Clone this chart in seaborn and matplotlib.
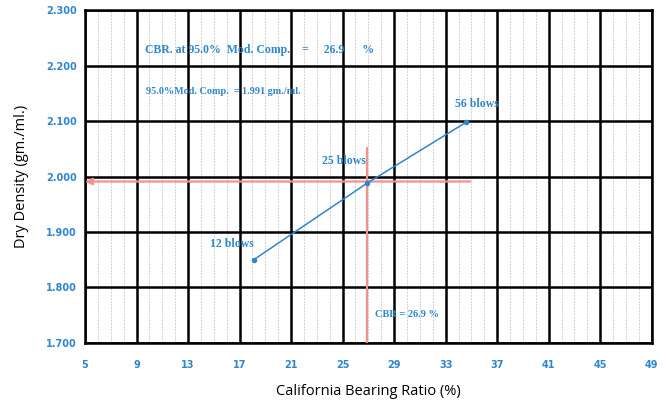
import matplotlib
matplotlib.use("Agg")
import matplotlib.pyplot as plt
import seaborn as sns
import pandas as pd
import numpy as np

# CBR test points (penetration at each compaction effort)
blows = ["12 blows", "25 blows", "56 blows"]
cbr = [18.1, 26.9, 34.6]
dry_density = [1.850, 1.988, 2.098]

target_density = 1.991
cbr_at_target = 26.9

x_ticks = [5, 9, 13, 17, 21, 25, 29, 33, 37, 41, 45, 49]
y_ticks = [1.700, 1.800, 1.900, 2.000, 2.100, 2.200, 2.300]

BLUE = "#2f86cf"
RED = "#f39090"
tick_font = ["Liberation Sans Narrow", "DejaVu Sans"]
serif = ["Liberation Serif", "DejaVu Serif"]

sns.set_style("white")
plt.rcParams["font.family"] = ["Open Sans", "DejaVu Sans"]

fig = plt.figure(figsize=(6.66, 4.03), dpi=100)
ax = fig.add_axes([0.1276, 0.149, 0.851, 0.826])

df = pd.DataFrame({"cbr": cbr, "density": dry_density, "label": blows})

ax.set_xlim(x_ticks[0], x_ticks[-1])
ax.set_ylim(y_ticks[0], y_ticks[-1])

# minor grid every 1 %
ax.set_xticks(np.arange(x_ticks[0], x_ticks[-1] + 1, 1), minor=True)
ax.grid(which="minor", axis="x", color="#cfcfcf", linestyle=(0, (2, 1.2)), linewidth=0.7)
ax.grid(which="major", axis="both", color="black", linewidth=1.8)
ax.set_axisbelow(True)

sns.lineplot(data=df, x="cbr", y="density", ax=ax, color=BLUE, linewidth=1.1,
             marker="o", markersize=4, markeredgewidth=0, sort=False, zorder=4)

# reference lines at the target density
ax.annotate("", xy=(x_ticks[0], target_density), xytext=(34.9, target_density),
            arrowprops=dict(arrowstyle="-|>", color=RED, lw=1.6,
                            mutation_scale=10, shrinkA=0, shrinkB=0), zorder=3)
ax.plot([cbr_at_target, cbr_at_target], [y_ticks[0], 2.051], color=RED, lw=1.6, zorder=3)

# point labels
offsets = {"12 blows": (-1.7, 0.028), "25 blows": (-1.8, 0.040), "56 blows": (0.8, 0.032)}
for lab, x, y in zip(blows, cbr, dry_density):
    dx, dy = offsets[lab]
    ax.text(x + dx, y + dy, lab, color=BLUE, fontsize=8.5, fontweight="bold",
            family=serif, ha="center", va="center", zorder=5)

ax.text(9.65, 2.228, f"CBR. at 95.0%  Mod. Comp.    =     {cbr_at_target}      %",
        color=BLUE, fontsize=8.5, fontweight="bold", family=serif, va="center")
ax.text(9.75, 2.154, f"95.0%Mod. Comp.  = {target_density:.3f} gm./ml.",
        color=BLUE, fontsize=7.3, fontweight="bold", family=serif, va="center")
ax.text(27.5, 1.752, f"CBR = {cbr_at_target} %",
        color=BLUE, fontsize=7.5, fontweight="bold", family=serif, va="center")

ax.set_xticks(x_ticks)
ax.set_yticks(y_ticks)
ax.set_xticklabels([str(t) for t in x_ticks])
ax.set_yticklabels([f"{t:.3f}" for t in y_ticks])
ax.tick_params(axis="both", which="major", direction="out", length=4, width=1.5,
               color="black", labelcolor=BLUE, labelsize=7)
ax.tick_params(axis="y", pad=2)
ax.tick_params(axis="x", pad=8)
ax.tick_params(which="minor", length=0)
for lbl in ax.get_xticklabels() + ax.get_yticklabels():
    lbl.set_family(tick_font)
    lbl.set_fontweight("bold")

for s in ax.spines.values():
    s.set_color("black")
    s.set_linewidth(1.8)

ax.set_xlabel("California Bearing Ratio (%)", fontsize=10.5, color="black", labelpad=10)
ax.set_ylabel("Dry Density (gm./ml.)", fontsize=10.5, color="black", labelpad=12)

fig.savefig("out.png", dpi=100)
